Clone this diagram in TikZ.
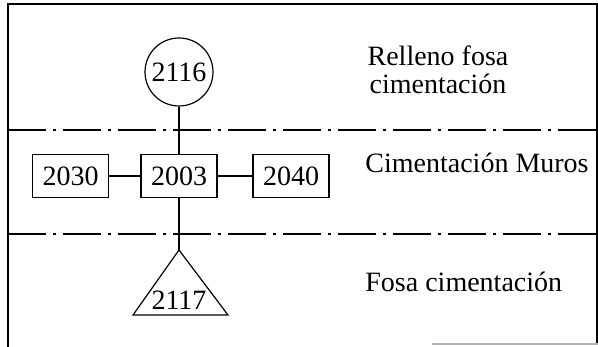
\documentclass[tikz,border=0pt]{standalone}
\usepackage{fontspec}
\setmainfont{Liberation Serif}
\begin{document}
\begin{tikzpicture}[x=0.5pt,y=-0.5pt,font=\rmfamily\fontsize{14}{14}\selectfont,
    ueline/.style={black,line width=0.6pt},
    uebox/.style={draw=black,line width=0.6pt,minimum width=38pt,minimum height=21.5pt,inner sep=0pt},
    uecirc/.style={draw=black,line width=0.6pt,circle,minimum size=34pt,inner sep=0pt},
    uesep/.style={black,line width=0.6pt,dash pattern=on 19pt off 3.5pt on 1.5pt off 3.5pt}]
  \definecolor{uegray}{HTML}{B4B4B4}
  \path[use as bounding box] (0,0) rectangle (598,347);

  % frame and phase separators
  \draw[black,line width=1pt] (8,347) -- (8,4) -- (597,4) -- (597,343);
  \draw[uegray,line width=0.8pt] (432,344) -- (598,344);
  \draw[uesep] (8,130) -- (598,130);
  \draw[uesep] (8,234) -- (598,234);

  % units
  \node[uecirc] (u2116) at (179,72) {2116};
  \node[uebox] (u2030) at (70.5,176) {2030};
  \node[uebox] (u2003) at (179,176) {2003};
  \node[uebox] (u2040) at (291,176) {2040};
  \coordinate (apex) at (179,250);
  \draw[ueline] (apex) -- (133,315) -- (228,315) -- cycle;
  \node (u2117) at (179,300) {2117};

  \draw[ueline] (u2116.south) -- (u2003.north);
  \draw[ueline] (u2030.east) -- (u2003.west);
  \draw[ueline] (u2003.east) -- (u2040.west);
  \draw[ueline] (u2003.south) -- (apex);

  % phase names
  \node[align=center] (lrelleno) at (438,70) {Relleno fosa\\ cimentación};
  \node[anchor=base west,inner sep=0pt] (lmuros) at (365,172) {Cimentación Muros};
  \node[anchor=base west,inner sep=0pt] (lfosa) at (365,291) {Fosa cimentación};
\end{tikzpicture}
\end{document}
